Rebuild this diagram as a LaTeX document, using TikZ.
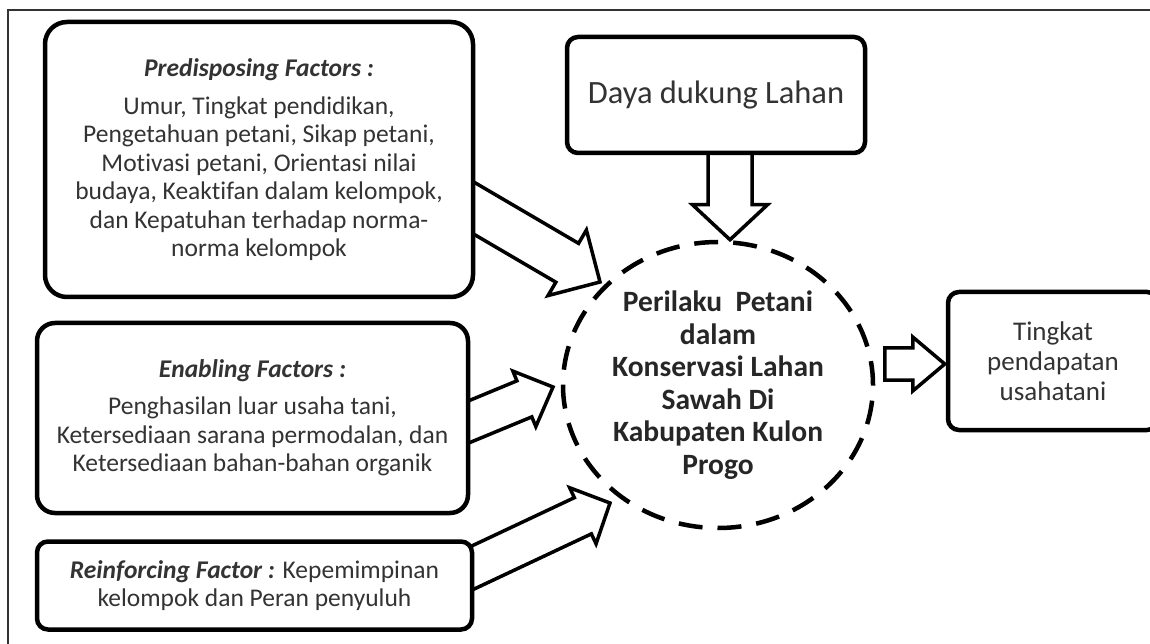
\documentclass[tikz,border=0pt]{standalone}
\usepackage{fontspec}
\setmainfont{Carlito}[RawFeature={-liga;-clig;-calt;-dlig}]
\usetikzlibrary{shapes.geometric,calc,positioning,backgrounds}
\tikzset{
    outer-frame/.style = {draw=black!80, line width=1.5pt},
    factor-box/.style = {draw=black, fill=white, line width=4.5pt, rectangle, rounded corners=22pt, inner sep=0pt, align=center, text=black!80, font=\fontsize{25.5}{28.5}\selectfont},
    small-box/.style = {factor-box, rounded corners=11pt},
    behaviour-ellipse/.style = {draw=black, ellipse, line width=4.5pt, dash pattern=on 24pt off 15pt, inner sep=0pt, align=center, text=black!85, font=\bfseries\fontsize{29.5}{32.5}\selectfont},
    fat-arrow/.style = {draw=black, fill=white, line width=3.5pt, line join=miter},
}
\newcommand{\fatarrow}[5]{% tail, tip, half shaft, half head, head length
  \coordinate (fa-base) at ($(#2)!#5!(#1)$);
  \draw[fat-arrow] ($(#1)!#3!90:(#2)$) -- ($(fa-base)!#3!90:(#2)$) -- ($(fa-base)!#4!90:(#2)$) -- (#2)
    -- ($(fa-base)!#4!-90:(#2)$) -- ($(fa-base)!#3!-90:(#2)$) -- ($(#1)!#3!-90:(#2)$) -- cycle;}

\begin{document}
\begin{tikzpicture}[x=1pt, y=1pt]
\path[use as bounding box, clip] (0,0) rectangle (1150,643);
\draw[outer-frame] (8,-10) rectangle (1170,633);

% left column
\node[factor-box, minimum width=428pt, minimum height=275pt] (pre) at (259,483.5) {\textbf{\textit{Predisposing Factors :}}\\[9.5pt]
    Umur, Tingkat pendidikan,\\ Pengetahuan petani, Sikap petani,\\ Motivasi petani, Orientasi nilai\\
    budaya, Keaktifan dalam kelompok,\\ dan Kepatuhan terhadap norma-\\ norma kelompok};
\node[factor-box, rounded corners=18pt, minimum width=431pt, minimum height=190pt] (enab) at (252.5,225) {\textbf{\textit{Enabling Factors :}}\\[8.5pt]
    Penghasilan luar usaha tani,\\ Ketersediaan sarana permodalan, dan\\ Ketersediaan bahan-bahan organik};
\node[small-box, minimum width=435pt, minimum height=88pt, below right=24pt and 0pt of enab.south west, anchor=north west] (reinf) {\textbf{\textit{Reinforcing Factor :}} Kepemimpinan\\ kelompok dan Peran penyuluh};

% middle and right
\node[small-box, minimum width=298pt, minimum height=116pt, font=\fontsize{32.5}{35}\selectfont] (daya) at (716,548) {Daya dukung Lahan};
\node[behaviour-ellipse, minimum width=310pt, minimum height=286pt] (behav) at (718,258) {Perilaku \ Petani\\ dalam\\ Konservasi Lahan\\ Sawah Di\\ Kabupaten Kulon\\ Progo};
\node[small-box, minimum width=210pt, minimum height=138pt, font=\fontsize{27}{30}\selectfont] (income) at (1053,282) {Tingkat\\ pendapatan\\ usahatani};

% block arrows
\coordinate (pre-out) at ($(pre.east)+(-17,-39.5)$);
\coordinate (enab-out) at ($(enab.east)+(-17.5,-10.5)$);
\coordinate (reinf-out) at ($(reinf.east)+(-18.3,10)$);
\coordinate (daya-out) at ($(daya.south)+(14,15)$);
\coordinate (behav-out) at ($(income.west)+(-61,-3)$);
\begin{pgfonlayer}{background}
\fatarrow{pre-out}{$(behav.center)+(-118,103)$}{22.5pt}{38pt}{38pt}
\fatarrow{enab-out}{$(behav.center)+(-165,-2)$}{19.5pt}{30pt}{31pt}
\fatarrow{reinf-out}{$(behav.center)+(-108,-118)$}{20pt}{31pt}{30pt}
\fatarrow{daya-out}{$(behav.north)+(12,0)$}{22pt}{37.5pt}{35pt}
\fatarrow{behav-out}{$(income.west)+(-1,-3)$}{16pt}{27pt}{32pt}
\end{pgfonlayer}
\end{tikzpicture}
\end{document}
